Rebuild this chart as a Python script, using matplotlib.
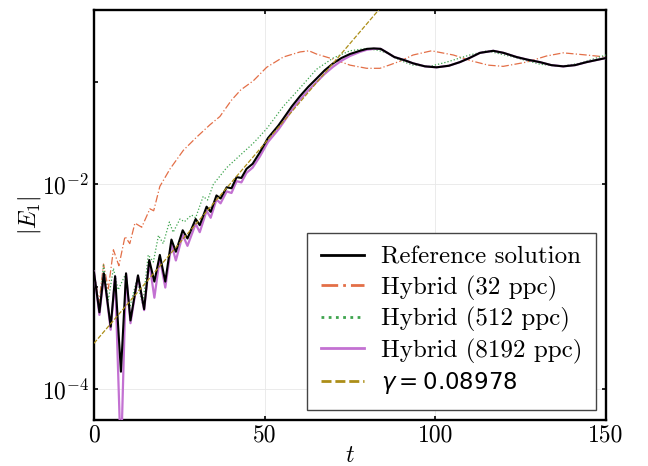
import numpy as np
import matplotlib.pyplot as plt

# values
ref_t = [0, 1.6, 2.9, 4.9, 6.2, 7.9, 9.4, 10.7, 12.9, 14.7, 16.2, 17.7, 19.3, 20.9,
         22.7, 24.0, 26.0, 27.4, 29.8, 31.0, 33.0, 34.2, 35.9, 37.1, 38.9, 40.3,
         41.8, 43.2, 44.7, 46.5, 48.6, 51, 54, 55.5, 58, 60.4, 62.8, 65.2, 67.6,
         70.1, 72.5, 75, 77.9, 80, 82, 84, 86, 88, 91, 93.5, 97, 100.4, 104,
         107.2, 110, 113.1, 117, 120, 123.8, 127, 130.7, 134, 137.5, 141, 144.3,
         147, 150]
ref_e = [1.38e-3, 5.62e-4, 1.35e-3, 4.07e-4, 1.26e-3, 1.48e-4, 1.35e-3, 4.68e-4,
         1.29e-3, 6.03e-4, 1.82e-3, 1.12e-3, 2.04e-3, 1.12e-3, 2.88e-3, 2.19e-3,
         3.55e-3, 2.95e-3, 4.57e-3, 3.98e-3, 6.03e-3, 5.37e-3, 7.76e-3, 7.24e-3,
         9.33e-3, 9.12e-3, 1.17e-2, 1.15e-2, 1.41e-2, 1.58e-2, 2.04e-2, 2.82e-2,
         3.72e-2, 4.37e-2, 5.75e-2, 7.24e-2, 8.91e-2, 0.107, 0.129, 0.151, 0.170,
         0.186, 0.200, 0.209, 0.211, 0.209, 0.191, 0.174, 0.162, 0.151, 0.141,
         0.138, 0.143, 0.155, 0.170, 0.191, 0.200, 0.191, 0.174, 0.164, 0.155,
         0.145, 0.141, 0.145, 0.155, 0.162, 0.170]

h32_t = [0, 1.5, 2.8, 4.2, 5.7, 7.3, 9.1, 10.5, 12, 14, 16.4, 17.5, 19.3, 22.3,
         26.2, 30.1, 34, 36.9, 40.3, 43, 46.7, 50.6, 55.5, 60.4, 63, 65.2, 70.1,
         75, 79.9, 83.8, 86.5, 89.6, 93.5, 98.9, 105.3, 111.1, 115.5, 119.9,
         126.7, 132.6, 137.5, 144.3, 150]
h32_e = [1.38e-3, 7.0e-4, 1.66e-3, 9.5e-4, 2.29e-3, 1.6e-3, 3.09e-3, 2.63e-3,
         4.17e-3, 3.8e-3, 5.75e-3, 5.5e-3, 9.5e-3, 1.41e-2, 2.14e-2, 2.88e-2,
         3.8e-2, 4.57e-2, 6.6e-2, 8.3e-2, 0.102, 0.138, 0.174, 0.195, 0.200,
         0.186, 0.166, 0.145, 0.135, 0.135, 0.145, 0.158, 0.182, 0.200, 0.182,
         0.158, 0.145, 0.141, 0.155, 0.178, 0.191, 0.182, 0.174]

h512_t = [0, 1.6, 2.8, 4.2, 5.7, 7.1, 9.1, 10.5, 12.5, 14.3, 15.9, 17.4, 18.9,
          20.3, 22.1, 23.2, 25.2, 26.5, 28.6, 29.8, 32, 33.3, 35, 38.9, 42.8,
          46.7, 50.6, 55.5, 60.4, 65.2, 70.1, 75, 79, 82.8, 86, 88, 91, 93.5,
          98.4, 103.3, 110.1, 115.2, 122.8, 130.7, 136.5, 142.3, 150]
h512_e = [1.38e-3, 6.0e-4, 1.62e-3, 7.4e-4, 1.51e-3, 9.3e-4, 1.29e-3, 6.3e-4,
          1.15e-3, 6.6e-4, 2.04e-3, 1.74e-3, 3.16e-3, 2.63e-3, 4.27e-3, 3.39e-3,
          4.57e-3, 4.3e-3, 5.0e-3, 4.7e-3, 7.6e-3, 7.0e-3, 1.0e-2, 1.45e-2,
          1.91e-2, 2.51e-2, 3.47e-2, 5.75e-2, 8.7e-2, 0.132, 0.170, 0.200, 0.209,
          0.204, 0.190, 0.172, 0.155, 0.145, 0.141, 0.155, 0.182, 0.200, 0.174,
          0.148, 0.141, 0.151, 0.182]

h8192_t = ref_t
h8192_e = [1.40e-3, 5.3e-4, 1.33e-3, 3.8e-4, 1.26e-3, 2.0e-5, 1.33e-3, 4.4e-4,
           1.26e-3, 5.9e-4, 1.74e-3, 7.8e-4, 1.9e-3, 9.8e-4, 2.6e-3, 1.8e-3,
           3.2e-3, 2.5e-3, 4.1e-3, 3.4e-3, 5.5e-3, 4.7e-3, 7.1e-3, 6.5e-3,
           8.5e-3, 8.2e-3, 1.07e-2, 1.04e-2, 1.29e-2, 1.45e-2, 1.86e-2, 2.58e-2,
           3.4e-2, 4.0e-2, 5.3e-2, 6.7e-2, 8.2e-2, 9.9e-2, 0.119, 0.140, 0.160,
           0.178, 0.195, 0.205, 0.209, 0.209, 0.191, 0.174, 0.162, 0.151, 0.141,
           0.138, 0.143, 0.155, 0.170, 0.191, 0.200, 0.191, 0.174, 0.164, 0.155,
           0.145, 0.141, 0.145, 0.155, 0.162, 0.170]

# growth-rate fit, gamma = 0.08978 (end points of the line)
fit_t = [0, 90]
fit_e = [2.8e-4, 0.904]

labels = ['Reference solution', 'Hybrid (32 ppc)', 'Hybrid (512 ppc)',
          'Hybrid (8192 ppc)', r'$\gamma = 0.08978$']

plt.rcParams['mathtext.fontset'] = 'cm'
plt.rcParams['font.family'] = 'cmr10'
plt.rcParams['axes.unicode_minus'] = False

fig = plt.figure(figsize=(6.48, 4.66), dpi=100)
ax = fig.add_axes([0.145, 0.0987, 0.790, 0.8798])

ax.plot(ref_t, ref_e, color='black', lw=1.5, label=labels[0], zorder=5)
ax.plot(h32_t, h32_e, color='#E36F47', lw=0.9, dashes=(6, 1.8, 1, 1.8), label=labels[1], zorder=3)
ax.plot(h512_t, h512_e, color='#3EA44E', lw=0.9, dashes=(1, 1.6), label=labels[2], zorder=3)
ax.plot(h8192_t, h8192_e, color='#C371D2', lw=1.6, label=labels[3], zorder=4)
ax.plot(fit_t, fit_e, color='#AC8E18', lw=0.9, dashes=(3.6, 1.4), label=labels[4], zorder=6)

ax.set_yscale('log')
ax.set_xlim(0, 150)
ax.set_ylim(5e-5, 0.5)
ax.set_xticks([0, 50, 100, 150])
ax.set_xticklabels(['0', '50', '100', '150'])
ax.set_yticks([1e-4, 1e-2])
ax.set_yticklabels([r'$10^{-4}$', r'$10^{-2}$'])
ax.set_yticks([1e-3, 1e-1], minor=True)
ax.yaxis.set_minor_formatter(plt.NullFormatter())
ax.tick_params(which='both', direction='in', labelsize=17, length=3, width=1.2,
               top=True, right=True)
ax.tick_params(which='minor', right=False)
ax.grid(True, which='major', color='#e8e8e8', lw=0.6)
for s in ax.spines.values():
    s.set_linewidth(1.7)

ax.set_xlabel(r'$t$', fontsize=17, labelpad=-1.5)
ax.set_ylabel(r'$|E_1|$', fontsize=17, labelpad=-1)

leg = ax.legend(loc='lower right', bbox_to_anchor=(0.980, 0.0244), borderaxespad=0,
                fontsize=18, fancybox=False, framealpha=1, edgecolor='#444444',
                handlelength=1.7, handletextpad=0.68, labelspacing=0.26,
                borderpad=0.55)
leg.get_frame().set_linewidth(1.0)
for line in leg.get_lines():
    line.set_linewidth(2.0)
leg.get_texts()[4].set_family('DejaVu Sans')
leg.get_texts()[4].set_math_fontfamily('dejavusans')
leg.get_texts()[4].set_fontsize(16.5)

fig.savefig('out.png', dpi=100)
